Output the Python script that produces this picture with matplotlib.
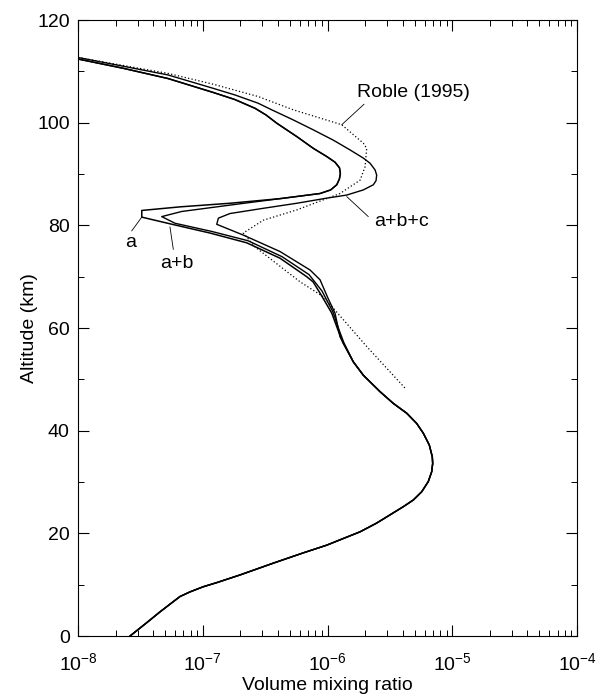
import numpy as np
import matplotlib.pyplot as plt
from matplotlib.ticker import MultipleLocator, LogLocator

plt.rcParams['font.family'] = ['Liberation Sans', 'DejaVu Sans']
plt.rcParams['mathtext.fontset'] = 'custom'
plt.rcParams['mathtext.rm'] = 'Liberation Sans'
plt.rcParams['mathtext.it'] = 'Liberation Sans'
plt.rcParams['font.size'] = 14

# log10 of volume mixing ratio, altitude in km
# upper part shared by a and a+b (above the nose)
upper_ab_log = [-8.0, -7.639, -7.279, -6.918, -6.742, -6.581, -6.493, -6.407,
                -6.247, -6.114, -6.006, -5.940, -5.904, -5.897, -5.905, -5.926,
                -5.975, -6.060, -6.220]
upper_ab_alt = [112.4, 110.6, 108.6, 105.9, 104.5, 102.8, 101.5, 99.9,
                97.3, 95.0, 93.4, 92.3, 91.2, 90.1, 89.0, 87.9,
                86.9, 86.2, 85.7]

a_log = [-6.381, -6.782, -7.182, -7.489, -7.489, -7.263, -6.942, -6.648,
         -6.381, -6.167, -6.116, -6.060, -5.966, -5.916, -5.876]
a_alt = [85.2, 84.3, 83.6, 82.9, 81.6, 80.3, 78.5, 76.6,
         73.6, 70.0, 69.0, 66.8, 62.9, 59.6, 57.1]

ab_log = [-6.701, -7.169, -7.329, -7.222, -6.926, -6.637, -6.365, -6.148,
          -6.044, -5.956, -5.910, -5.870]
ab_alt = [84.2, 82.7, 81.7, 80.4, 78.8, 77.0, 73.9, 70.4,
          67.2, 63.1, 59.8, 57.2]

abc_log = [-8.0, -7.639, -7.279, -6.918, -6.742, -6.557, -6.447, -6.280,
           -6.114, -5.954, -5.820, -5.713, -5.659, -5.619, -5.606, -5.611,
           -5.633, -5.713, -5.846, -6.006, -6.247, -6.520, -6.782, -6.875,
           -6.888, -6.675, -6.381, -6.140, -6.060, -5.996, -5.940, -5.900,
           -5.860]
abc_alt = [112.7, 111.0, 109.3, 106.7, 105.4, 103.8, 102.5, 100.6,
           98.6, 96.6, 94.7, 93.1, 92.1, 90.8, 89.8, 88.7,
           87.9, 86.9, 85.9, 85.3, 84.3, 83.3, 82.3, 81.4,
           80.2, 78.1, 74.9, 71.3, 69.4, 65.8, 62.9, 58.3,
           56.5]

# lower part common to all model curves
low_log = [-5.793, -5.713, -5.579, -5.472, -5.365, -5.285, -5.232, -5.184,
           -5.160, -5.157, -5.165, -5.192, -5.245, -5.312, -5.392, -5.499,
           -5.606, -5.739, -5.873, -6.006, -6.194, -6.434, -6.701, -6.888,
           -6.996, -7.102, -7.182, -7.263, -7.343, -7.449, -7.583]
low_alt = [53.4, 50.8, 47.6, 45.3, 43.4, 41.4, 39.5, 37.2,
           34.9, 33.6, 32.0, 30.1, 28.1, 26.5, 25.2, 23.6,
           22.0, 20.3, 19.0, 17.7, 16.2, 14.2, 11.9, 10.4,
           9.6, 8.6, 7.7, 6.2, 4.7, 2.6, 0.0]

roble_log = [-8.0, -7.279, -6.918, -6.557, -6.274, -5.886, -5.713, -5.686,
             -5.699, -5.739, -5.900, -6.247, -6.515, -6.675, -6.581, -6.220,
             -6.034, -5.686, -5.379]
roble_alt = [112.7, 109.6, 107.5, 105.1, 102.5, 99.6, 96.0, 95.0,
             91.4, 88.8, 86.2, 83.0, 81.0, 78.5, 75.8, 69.0,
             66.1, 56.4, 48.3]

fig = plt.figure(figsize=(6.02, 6.97), dpi=100)
ax = fig.add_axes([0.1296, 0.0875, 0.8289, 0.8838])

def curve(*parts):
    lg = np.concatenate([p[0] for p in parts])
    al = np.concatenate([p[1] for p in parts])
    return 10.0 ** lg, al

x, y = curve((upper_ab_log, upper_ab_alt), (a_log, a_alt), (low_log, low_alt))
ax.plot(x, y, color='black', lw=1.1)
x, y = curve((upper_ab_log, upper_ab_alt), (ab_log, ab_alt), (low_log, low_alt))
ax.plot(x, y, color='black', lw=1.0)
x, y = curve((abc_log, abc_alt), (low_log, low_alt))
ax.plot(x, y, color='black', lw=1.0)
ax.plot(10.0 ** np.array(roble_log), roble_alt, color='black', lw=0.9,
        linestyle=(0, (1, 1.8)))

line = dict(arrowstyle='-', lw=0.6, color='black', shrinkA=0, shrinkB=0)
ax.annotate('', xy=(10**-5.886, 99.6), xytext=(10**-5.707, 103.6), arrowprops=line)
ax.text(10**-5.76, 105.8, 'Roble (1995)', ha='left', va='center')
ax.annotate('', xy=(10**-5.846, 85.6), xytext=(10**-5.673, 81.7), arrowprops=line)
ax.text(10**-5.625, 80.8, 'a+b+c', ha='left', va='center')
ax.annotate('', xy=(10**-7.489, 81.6), xytext=(10**-7.570, 78.9), arrowprops=line)
ax.text(10**-7.575, 76.6, 'a', ha='center', va='center')
ax.annotate('', xy=(10**-7.263, 79.7), xytext=(10**-7.236, 75.3), arrowprops=line)
ax.text(10**-7.205, 72.6, 'a+b', ha='center', va='center')

ax.set_xscale('log')
ax.set_xlim(1e-8, 1e-4)
ax.set_ylim(0, 120)
ax.yaxis.set_major_locator(MultipleLocator(20))
ax.yaxis.set_minor_locator(MultipleLocator(10))
ax.xaxis.set_minor_locator(LogLocator(base=10, subs=np.arange(2, 10)))
ax.tick_params(which='both', direction='in', top=True, right=True)
ax.tick_params(which='major', length=8, width=0.8)
ax.tick_params(which='minor', length=4, width=0.7)
ax.tick_params(axis='x', which='major', pad=12)
ax.tick_params(axis='y', which='major', pad=6)
for s in ax.spines.values():
    s.set_linewidth(0.8)
ax.set_xlabel('Volume mixing ratio', labelpad=2)
ax.set_ylabel('Altitude (km)')
ax.yaxis.set_label_coords(-0.081, 0.5)

fig.savefig('out.png', dpi=100)
